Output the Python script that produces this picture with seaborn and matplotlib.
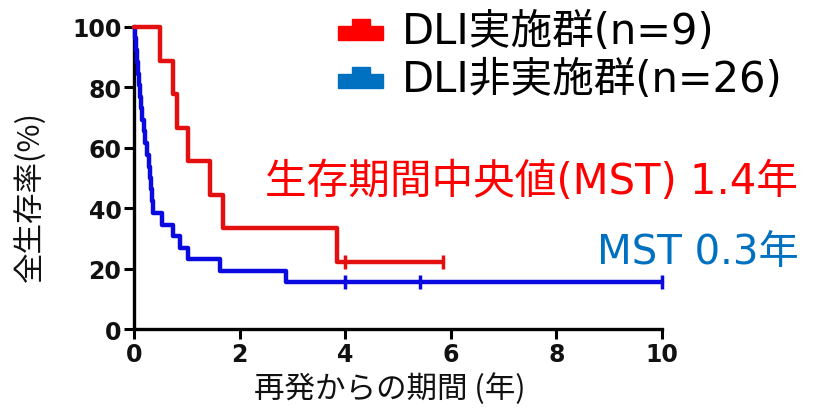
import matplotlib
matplotlib.use("Agg")
import matplotlib.pyplot as plt
from matplotlib.patches import Rectangle
import pandas as pd
import seaborn as sns

# Kaplan-Meier step data (time in years, overall survival in %)
dli_times = [0.0, 0.49, 0.74, 0.81, 1.03, 1.43, 1.69, 3.85, 5.85]
dli_surv = [100.0, 88.9, 77.8, 66.7, 55.6, 44.4, 33.3, 22.2, 22.2]
dli_censor_t = [4.0, 5.85]
dli_censor_s = [22.2, 22.2]

non_times = [0.0, 0.02, 0.03, 0.05, 0.07, 0.09, 0.11, 0.14, 0.16, 0.19, 0.21,
             0.25, 0.28, 0.30, 0.32, 0.34, 0.36, 0.53, 0.74, 0.87, 1.03,
             1.63, 2.88, 10.0]
non_surv = [100.0, 96.2, 92.3, 88.5, 84.6, 80.8, 76.9, 73.1, 69.2, 65.4, 61.5,
            57.7, 53.8, 50.0, 46.2, 42.3, 38.5, 34.6, 30.8, 26.9, 23.1,
            19.2, 15.4, 15.4]
non_censor_t = [4.0, 5.42, 10.0]
non_censor_s = [15.4, 15.4, 15.4]

groups = ["DLI実施群(n=9)", "DLI非実施群(n=26)"]
x_ticks = [0, 2, 4, 6, 8, 10]
y_ticks = [0, 20, 40, 60, 80, 100]

line_colors = ["#E41010", "#0A0AE0"]
legend_colors = ["#FF0000", "#0070C0"]

df = pd.concat([
    pd.DataFrame({"time": dli_times, "surv": dli_surv, "group": groups[0]}),
    pd.DataFrame({"time": non_times, "surv": non_surv, "group": groups[1]}),
], ignore_index=True)
cens = pd.concat([
    pd.DataFrame({"time": dli_censor_t, "surv": dli_censor_s, "group": groups[0]}),
    pd.DataFrame({"time": non_censor_t, "surv": non_censor_s, "group": groups[1]}),
], ignore_index=True)

sns.set_theme(style="ticks")
plt.rcParams["font.family"] = ["Noto Sans CJK JP", "DejaVu Sans"]
wide = ["DejaVu Sans", "Noto Sans CJK JP"]

fig = plt.figure(figsize=(8.31, 4.10), dpi=100)
ax = fig.add_axes([134 / 831, 1 - 330 / 410, (662 - 134) / 831, (330 - 28) / 410])

# blue drawn first so the red curve sits on top
for g, c in [(groups[1], line_colors[1]), (groups[0], line_colors[0])]:
    sub = df[df["group"] == g]
    sns.lineplot(data=sub, x="time", y="surv", ax=ax, color=c, lw=3.2,
                 drawstyle="steps-post", estimator=None, sort=False,
                 legend=False, clip_on=False, zorder=3)
    cs = cens[cens["group"] == g]
    sns.scatterplot(data=cs, x="time", y="surv", ax=ax, color=c, marker="|",
                    s=90, linewidth=2.5, legend=False, clip_on=False, zorder=4)

ax.set_xlim(0, 10)
ax.set_ylim(0, 100)
ax.set_xticks(x_ticks)
ax.set_yticks(y_ticks)
ax.set_xticklabels([str(t) for t in x_ticks], fontfamily="DejaVu Sans",
                   fontweight="bold", fontsize=17)
ax.set_yticklabels([str(t) for t in y_ticks], fontfamily="DejaVu Sans",
                   fontweight="bold", fontsize=17)
ax.tick_params(axis="both", direction="out", length=7, width=2.2, pad=2,
               color="black", labelcolor="#111111")
for side in ["left", "bottom"]:
    ax.spines[side].set_linewidth(2.4)
    ax.spines[side].set_color("black")
for side in ["top", "right"]:
    ax.spines[side].set_visible(False)
ax.set_xlabel("")
ax.set_ylabel("")
ax.set_facecolor("white")

fig.text(29 / 831, 1 - 197 / 410, "全生存率(%)", rotation=90, fontsize=22,
         ha="center", va="center", color="#111111")
fig.text(390 / 831, 1 - 389 / 410, "再発からの期間 (年)", fontsize=22,
         ha="center", va="center", color="#111111")

# legend: step-shaped swatches with group labels
for i, (label, col) in enumerate(zip(groups, legend_colors)):
    top = 20 + i * 48
    fig.patches.append(Rectangle((338 / 831, 1 - (top + 21) / 410), 45 / 831, 14 / 410,
                                 transform=fig.transFigure, color=col))
    fig.patches.append(Rectangle((352 / 831, 1 - (top + 8) / 410), 18 / 831, 8 / 410,
                                 transform=fig.transFigure, color=col))
    fig.text(402 / 831, 1 - (top + 12) / 410, label, fontsize=30, family=wide,
             ha="left", va="center", color="black")

fig.text(265 / 831, 1 - 182 / 410, "生存期間中央値(MST) 1.4年", fontsize=30,
         family=wide, ha="left", va="center", color="#FF0000")
fig.text(597 / 831, 1 - 253 / 410, "MST 0.3年", fontsize=29, family=wide,
         ha="left", va="center", color="#0070C0")

fig.savefig("out.png", dpi=100, facecolor="white")
